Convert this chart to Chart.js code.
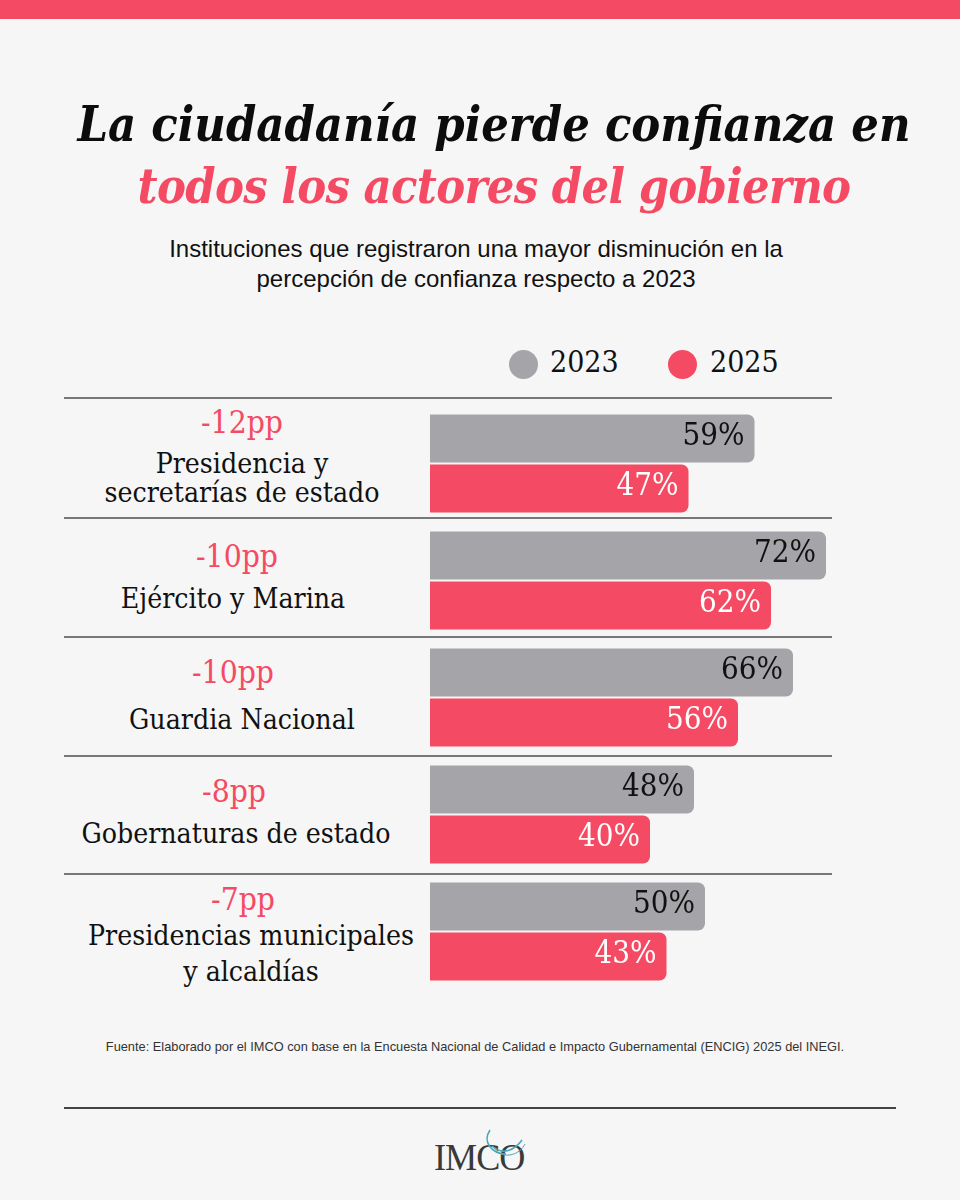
<!DOCTYPE html>
<html><head><meta charset="utf-8">
<style>
html,body{margin:0;padding:0;background:#f6f6f6;}
#wrap{position:relative;width:960px;height:1200px;overflow:hidden;background:#f6f6f6;font-family:"DejaVu Serif Condensed","DejaVu Serif",serif;color:#111}
#top{position:absolute;left:0;top:0;width:960px;height:19px;background:#f54a63}
.t{position:absolute;white-space:nowrap;text-align:center}
.title{font-style:italic;font-weight:700;font-size:48.3px;left:0;width:988px;color:#0c0c0c}
.sub{font-family:"Liberation Sans";font-size:24px;left:0;width:952px}
.leg{font-size:30px}
.dot{position:absolute;width:29px;height:29px;border-radius:50%}
.pp{font-size:31.5px;color:#f54a63;width:420px}
.nm{font-size:28.2px;width:420px}
.ln{position:absolute;height:2px;background:#777;left:64px;width:768px}
#cw{position:absolute;left:430px;top:405px;width:440px;height:585px}
</style></head><body>
<div id="wrap">
<div id="top"></div>
<div class="t title" style="top:96px">La ciudadanía pierde confianza en</div>
<div class="t title" style="top:158px;color:#f54a63;letter-spacing:-.7px">todos los actores del gobierno</div>
<div class="t sub" style="top:235px">Instituciones que registraron una mayor disminución en la</div>
<div class="t sub" style="top:265px">percepción de confianza respecto a 2023</div>
<div class="dot" style="left:509px;top:350px;background:#a5a5a9"></div>
<div class="t leg" style="left:550px;top:344px">2023</div>
<div class="dot" style="left:668px;top:350px;background:#f54a63"></div>
<div class="t leg" style="left:710px;top:344px">2025</div>
<div id="rows"></div>
<div id="cw"><canvas id="c" width="440" height="585"></canvas></div>
<div class="t" style="font-family:'Liberation Sans';font-size:12.8px;left:0;width:950px;top:1039px;color:#333">Fuente: Elaborado por el IMCO con base en la Encuesta Nacional de Calidad e Impacto Gubernamental (ENCIG) 2025 del INEGI.</div>
<div style="position:absolute;left:64px;top:1107px;width:832px;height:2px;background:#444"></div>
<div class="t" style="font-family:'Liberation Serif';font-size:38px;left:434px;top:1144px;line-height:26px;color:#3a3a3a;letter-spacing:-1px;transform:scaleX(.95);transform-origin:left">IMCO</div>
<svg style="position:absolute;left:420px;top:1120px" width="120" height="60" viewBox="0 0 120 60" fill="none" stroke="#4fa6b8" stroke-width="1.6">
<path d="M70 10 C62 22 72 34 86 34"/><path d="M72 26 C82 36 95 30 102 20"/><path d="M74 30 C86 40 100 34 105 24" stroke-width="1"/></svg>
</div>
<script src="https://cdn.jsdelivr.net/npm/chart.js@4"></script>
<script>
const categories=["Presidencia y\nsecretarías de estado","Ejército y Marina","Guardia Nacional","Gobernaturas de estado","Presidencias municipales\ny alcaldías"];
const changes=["-12pp","-10pp","-10pp","-8pp","-7pp"];
const values2023=[59,72,66,48,50];
const values2025=[47,62,56,40,43];
const seriesNames=["2023","2025"];
const grey="#a5a5a9",red="#f54a63";
const ppTop=[404,538,654,773,881];
const ppCenter=[242,237,233,234,243];
const nmTop=[449,584,705,819,918];
const nmCenter=[242,233,242,236,251];
const nmLine=[29,29,29,29,36];
const lineTop=[397,517,636,755,873];
const rows=document.getElementById('rows');
lineTop.forEach(y=>{const d=document.createElement('div');d.className='ln';d.style.top=y+'px';rows.appendChild(d);});
categories.forEach((c,i)=>{
 const p=document.createElement('div');p.className='t pp';p.textContent=changes[i];p.style.top=ppTop[i]+'px';p.style.left=(ppCenter[i]-210)+'px';rows.appendChild(p);
 const n=document.createElement('div');n.className='t nm';n.innerHTML=c.replace('\n','<br>');n.style.top=nmTop[i]+'px';n.style.left=(nmCenter[i]-210)+'px';n.style.lineHeight=nmLine[i]+'px';rows.appendChild(n);
});
const labelPlugin={id:'lab',afterDatasetsDraw(ch){const g=ch.ctx;g.save();g.font='31px "DejaVu Serif Condensed"';g.textAlign='right';g.textBaseline='middle';
 ch.data.datasets.forEach((ds,di)=>{ch.getDatasetMeta(di).data.forEach((b,i)=>{g.fillStyle=di?'#fff':'#111';g.fillText(ds.data[i]+'%',b.x-10,b.y-2);});});g.restore();}};
const common={borderRadius:{topRight:7,bottomRight:7},borderSkipped:false,categoryPercentage:100/117,barPercentage:.96};
new Chart(document.getElementById('c'),{type:'bar',
 data:{labels:categories,datasets:[
  {label:seriesNames[0],data:values2023,backgroundColor:grey,...common},
  {label:seriesNames[1],data:values2025,backgroundColor:red,...common}]},
 options:{indexAxis:'y',responsive:false,animation:false,devicePixelRatio:1,
  layout:{padding:0},
  plugins:{legend:{display:false},tooltip:{enabled:false}},
  scales:{x:{display:false,min:0,max:80},y:{display:false}}},
 plugins:[labelPlugin]});
</script>
</body></html>
